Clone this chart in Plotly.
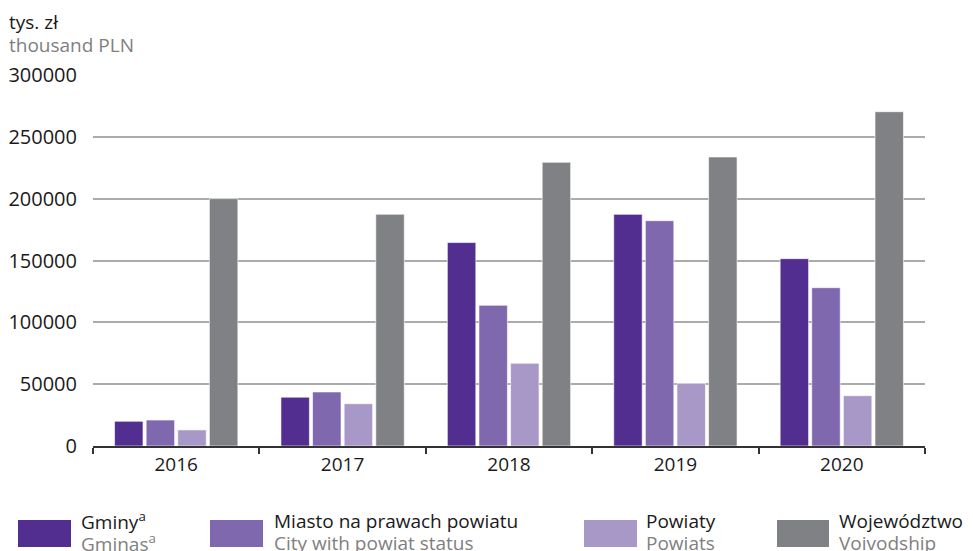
import plotly.graph_objects as go

years = ["2016", "2017", "2018", "2019", "2020"]
series_pl = ["Gminy<sup>a</sup>", "Miasto na prawach powiatu", "Powiaty", "Województwo"]
series_en = ["Gminas<sup>a</sup>", "City with powiat status", "Powiats", "Voivodship"]
colors = ["#522e91", "#7f68ae", "#a898c8", "#808184"]
gminy = [20000, 39500, 164500, 187300, 151500]
miasto = [21000, 43700, 113800, 182200, 128000]
powiaty = [13000, 34200, 66900, 50700, 40700]
wojewodztwo = [200000, 187400, 229400, 233700, 270300]
values = [gminy, miasto, powiaty, wojewodztwo]

y_ticks = [0, 50000, 100000, 150000, 200000, 250000, 300000]

FONT = "Open Sans"
FS = 19
W, H = 973, 551
L, R, T, B = 93, 48, 75, 105
pw, ph = W - L - R, H - T - B

def px(x):
    return (x - L) / pw

def py(y):
    return (H - B - y) / ph

fig = go.Figure()
for name, vals, col in zip(series_pl, values, colors):
    fig.add_trace(go.Bar(
        x=years, y=vals, name=name, marker_color=col,
        marker_line=dict(color="rgba(255,255,255,0.6)", width=1),
        showlegend=False,
    ))

fig.update_layout(
    width=W, height=H, autosize=False,
    margin=dict(l=L, r=R, t=T, b=B, autoexpand=False),
    plot_bgcolor="white", paper_bgcolor="white",
    barmode="group", bargap=0.24, bargroupgap=0.1,
    font=dict(family=FONT, size=FS, color="#1a1a1a"),
    xaxis=dict(
        type="category", showgrid=False, showline=True, linecolor="#333333",
        linewidth=1.5, ticks="outside", tickson="boundaries", ticklen=6,
        tickcolor="#333333", tickwidth=1.5, tickfont=dict(size=FS, color="#1a1a1a"),
        automargin=False,
    ),
    yaxis=dict(
        range=[0, 300000], tickvals=y_ticks, ticktext=[str(v) for v in y_ticks],
        showgrid=True, gridcolor="#ababab", gridwidth=1.5, zeroline=False,
        showline=False, ticklabelstandoff=15, tickfont=dict(size=20, color="#1a1a1a"),
        automargin=False,
    ),
)

fig.add_annotation(text="tys. zł", xref="paper", yref="paper", x=px(7), y=py(22),
                   xanchor="left", yanchor="middle", showarrow=False,
                   font=dict(size=FS, color="#1a1a1a"))
fig.add_annotation(text="thousand PLN", xref="paper", yref="paper", x=px(7), y=py(45),
                   xanchor="left", yanchor="middle", showarrow=False,
                   font=dict(size=FS, color="#808080"))

leg_sq = [(18, 71), (210, 263), (584, 637), (777, 829)]
leg_tx = [79, 272, 644, 837]
for (x0, x1), tx, col, pl, en in zip(leg_sq, leg_tx, colors, series_pl, series_en):
    fig.add_shape(type="rect", xref="paper", yref="paper",
                  x0=px(x0), x1=px(x1), y0=py(547), y1=py(520),
                  fillcolor=col, line=dict(width=0))
    fig.add_annotation(
        text=pl, xref="paper", yref="paper", x=px(tx), y=py(521),
        xanchor="left", yanchor="middle", align="left", showarrow=False,
        font=dict(size=FS, color="#1a1a1a"))
    fig.add_annotation(
        text=en, xref="paper", yref="paper", x=px(tx), y=py(543),
        xanchor="left", yanchor="middle", align="left", showarrow=False,
        font=dict(size=FS, color="#808080"))

fig.write_html("out.html", config={"displayModeBar": False},
               post_script="document.body.style.margin='0';")
